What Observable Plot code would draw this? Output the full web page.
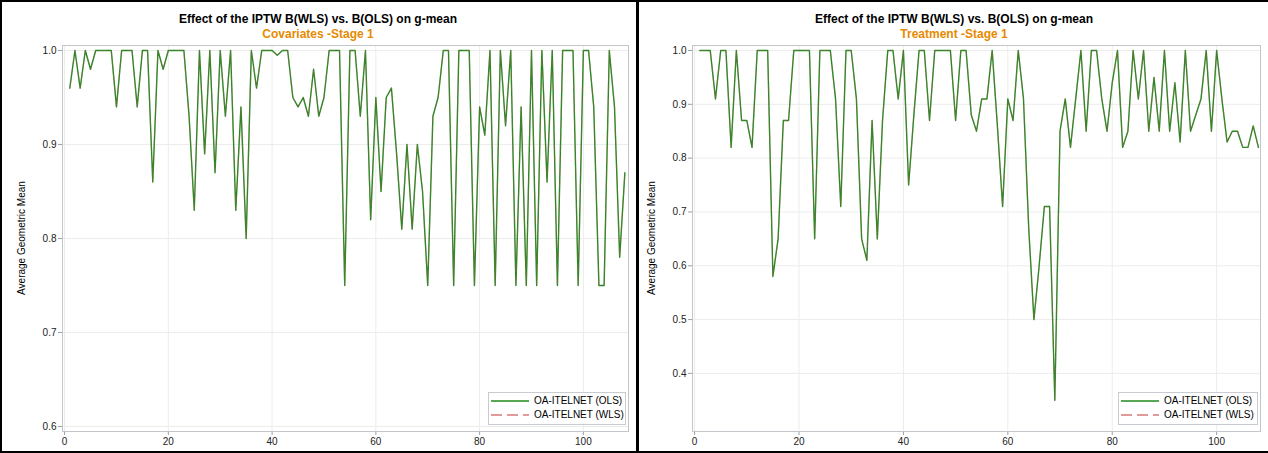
<!DOCTYPE html>
<html><head><meta charset="utf-8">
<script src="https://cdn.jsdelivr.net/npm/d3@7"></script>
<script src="https://cdn.jsdelivr.net/npm/@observablehq/plot@0.6"></script>
<style>
body{margin:0;background:#fff;font-family:"Liberation Sans",Arial,sans-serif;}
#wrap{position:relative;width:1268px;height:453px;overflow:hidden;background:#fff;}
.abs{position:absolute;}
.title{font-weight:bold;font-size:12px;color:#000;text-align:center;line-height:14px;white-space:nowrap;}
.sub{font-weight:bold;font-size:12px;color:#E68A00;text-align:center;line-height:14px;white-space:nowrap;}
.ylab{font-size:10px;color:#000;width:200px;text-align:center;line-height:12px;transform:rotate(-90deg);white-space:nowrap;}
.legend{border:1px solid #c8ccd0;background:#fff;box-sizing:border-box;}
.ltxt{font-size:10px;color:#000;line-height:12px;white-space:nowrap;}
.bar{position:absolute;background:#000;}
</style></head><body><div id="wrap"></div>
<script>
// ---- data ----
const runs = d3.range(1, 109); // iteration index 1..108
const xTicks = [0, 20, 40, 60, 80, 100];
const yTicksCov = [0.6, 0.7, 0.8, 0.9, 1.0];
const yTicksTrt = [0.4, 0.5, 0.6, 0.7, 0.8, 0.9, 1.0];
const titleText = "Effect of the IPTW B(WLS) vs. B(OLS) on g-mean";
const subtitles = ["Covariates -Stage 1", "Treatment -Stage 1"];
const seriesNames = ["OA-ITELNET (OLS)", "OA-ITELNET (WLS)"];
const yLabel = "Average Geometric Mean";

const covOLS = [0.96,1,0.96,1,0.98,1,1,1,1,0.94,1,1,1,0.94,1,1,0.86,1,0.98,1,
1,1,1,0.93,0.83,1,0.89,1,0.87,1,0.93,1,0.83,0.94,0.80,1,0.96,1,1,1,
0.995,1,1,0.95,0.94,0.95,0.93,0.98,0.93,0.95,1,1,1,0.75,1,1,0.93,1,0.82,0.95,
0.85,0.95,0.96,0.89,0.81,0.90,0.81,0.90,0.85,0.75,0.93,0.95,1,1,0.75,1,1,1,0.75,0.94,
0.91,1,0.75,1,0.92,1,0.75,0.94,0.75,1,0.75,1,0.86,1,0.75,1,1,1,0.75,1,
1,0.94,0.75,0.75,1,0.94,0.78,0.87];
const covWLS = [0.96,1,0.96,1,0.98,1,1,1,1,0.94,1,1,1,0.94,1,1,0.86,1,0.98,1,
1,1,1,0.93,0.83,1,0.89,1,0.87,1,0.93,1,0.83,0.94,0.80,1,0.96,1,1,1,
0.995,1,1,0.95,0.94,0.95,0.93,0.98,0.93,0.95,1,1,1,0.75,1,1,0.93,1,0.82,0.95,
0.85,0.95,0.96,0.89,0.81,0.90,0.81,0.90,0.85,0.75,0.93,0.95,1,1,0.75,1,1,1,0.75,0.94,
0.91,1,0.75,1,0.92,1,0.75,0.94,0.75,1,0.75,1,0.86,1,0.75,1,1,1,0.75,1,
1,0.94,0.75,0.75,1,0.94,0.78,0.87];

const trtOLS = [1,1,1,0.91,1,1,0.82,1,0.87,0.87,0.82,1,1,1,0.58,0.65,0.87,0.87,1,1,
1,1,0.65,1,1,1,0.91,0.71,1,1,0.91,0.65,0.61,0.87,0.65,0.87,1,1,0.91,1,
0.75,0.88,1,1,0.87,1,1,1,1,0.87,1,1,0.88,0.85,0.91,0.91,1,0.86,0.71,0.91,
0.87,1,0.91,0.67,0.50,0.60,0.71,0.71,0.35,0.85,0.91,0.82,0.91,1,0.85,1,1,0.91,0.85,0.94,
1,0.82,0.85,1,0.91,1,0.85,0.95,0.85,1,0.85,0.94,0.83,1,0.85,0.88,0.91,1,0.85,1,
0.91,0.83,0.85,0.85,0.82,0.82,0.86,0.82];
const trtWLS = [1,1,1,0.91,1,1,0.82,1,0.87,0.87,0.82,1,1,1,0.58,0.65,0.87,0.87,1,1,
1,1,0.65,1,1,1,0.91,0.71,1,1,0.91,0.65,0.61,0.87,0.65,0.87,1,1,0.91,1,
0.75,0.88,1,1,0.87,1,1,1,1,0.87,1,1,0.88,0.85,0.91,0.91,1,0.86,0.71,0.91,
0.87,1,0.91,0.67,0.50,0.60,0.71,0.71,0.35,0.85,0.91,0.82,0.91,1,0.85,1,1,0.91,0.85,0.94,
1,0.82,0.85,1,0.91,1,0.85,0.95,0.85,1,0.85,0.94,0.83,1,0.85,0.88,0.91,1,0.85,1,
0.91,0.83,0.85,0.85,0.82,0.82,0.86,0.82];

const OLS_COLOR = "#1f8a1f";
const WLS_COLOR = "#c86060";

const wrap = document.getElementById("wrap");
function el(tag, cls, style, text){
  const e = document.createElement(tag);
  if (cls) e.className = cls;
  if (style) e.setAttribute("style", style);
  if (text != null) e.textContent = text;
  wrap.appendChild(e);
  return e;
}

function panel(cfg){
  const rows = runs.map((r, i) => ({run: r, ols: cfg.ols[i], wls: cfg.wls[i]}));
  const chart = Plot.plot({
    width: cfg.width, height: 413,
    marginTop: 5, marginBottom: 22, marginLeft: cfg.marginLeft, marginRight: 8,
    x: {domain: cfg.xDomain},
    y: {domain: cfg.yDomain},
    style: {fontSize: "10px", fontFamily: "Liberation Sans, Arial, sans-serif", color: "#222", background: "transparent"},
    marks: [
      Plot.gridX(xTicks, {stroke: "#ececec", strokeOpacity: 1}),
      Plot.gridY(cfg.yTicks, {stroke: "#ececec", strokeOpacity: 1}),
      Plot.axisX(xTicks, {tickSize: 4, tickPadding: 2, stroke: "#9aa0a6", label: null, tickFormat: d => String(d)}),
      Plot.axisY(cfg.yTicks, {tickSize: 4, tickPadding: 2, stroke: "#9aa0a6", label: null, tickFormat: d3.format(".1f")}),
      Plot.frame({stroke: "#c2c6ca"}),
      Plot.line(rows, {x: "run", y: "ols", stroke: OLS_COLOR, strokeWidth: 1.4}),
      Plot.line(rows, {x: "run", y: "wls", stroke: WLS_COLOR, strokeWidth: 1.2, strokeOpacity: 0.3, strokeDasharray: "8,4"})
    ]
  });
  const holder = el("div", "abs", `left:${cfg.left}px;top:40px;`);
  holder.appendChild(chart);
  el("div", "abs title", `left:${cfg.left}px;top:12px;width:${cfg.width}px;`, titleText);
  el("div", "abs sub", `left:${cfg.left}px;top:27px;width:${cfg.width}px;`, cfg.subtitle);
  el("div", "abs ylab", `left:${cfg.ylabX - 100}px;top:${238 - 6}px;`, yLabel);
  // legend
  const L = cfg.legend;
  el("div", "abs legend", `left:${L.x}px;top:${L.y}px;width:${L.w}px;height:${L.h}px;`);
  const svgNS = "http://www.w3.org/2000/svg";
  [0, 1].forEach(k => {
    const yy = L.y + 9 + k * 14;
    const s = document.createElementNS(svgNS, "svg");
    s.setAttribute("width", 40); s.setAttribute("height", 6);
    s.setAttribute("style", `position:absolute;left:${L.x + 3}px;top:${yy - 3}px;`);
    const ln = document.createElementNS(svgNS, "line");
    ln.setAttribute("x1", 0); ln.setAttribute("x2", 38); ln.setAttribute("y1", 3); ln.setAttribute("y2", 3);
    ln.setAttribute("stroke", k === 0 ? OLS_COLOR : "#d87878");
    ln.setAttribute("stroke-width", 1.4);
    if (k === 1) ln.setAttribute("stroke-dasharray", "11,5");
    s.appendChild(ln);
    wrap.appendChild(s);
    el("div", "abs ltxt", `left:${L.x + 46}px;top:${yy - 6}px;`, seriesNames[k]);
  });
}

panel({left: 0, width: 636, marginLeft: 62, xDomain: [-0.4, 108.7], yDomain: [0.5947, 1.0053],
  yTicks: yTicksCov, ols: covOLS, wls: covWLS, subtitle: subtitles[0], ylabX: 22,
  legend: {x: 488, y: 392, w: 138, h: 33}});
panel({left: 640, width: 628, marginLeft: 52, xDomain: [-0.4, 108.4], yDomain: [0.292, 1.0093],
  yTicks: yTicksTrt, ols: trtOLS, wls: trtWLS, subtitle: subtitles[1], ylabX: 652,
  legend: {x: 1118, y: 392, w: 140, h: 33}});

// panel borders
el("div", "bar", "left:0;top:0;width:1268px;height:2px;");
el("div", "bar", "left:0;top:451px;width:1268px;height:2px;");
el("div", "bar", "left:0;top:0;width:2px;height:453px;");
el("div", "bar", "left:636px;top:0;width:3px;height:453px;");
</script></body></html>
